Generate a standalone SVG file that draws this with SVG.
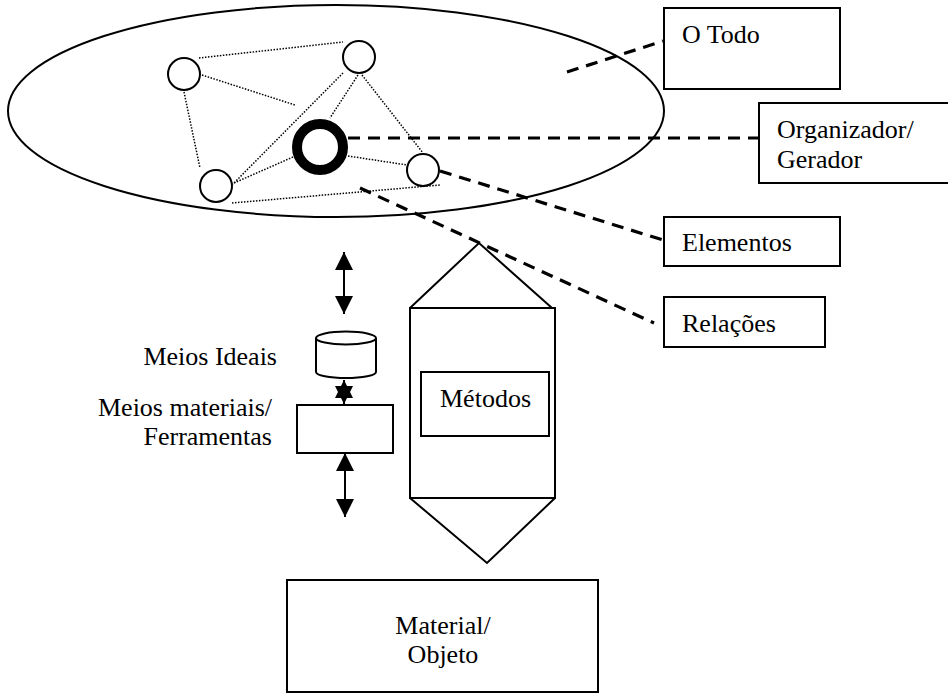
<svg xmlns="http://www.w3.org/2000/svg" width="948" height="693" viewBox="0 0 948 693" font-family="'Liberation Serif', 'DejaVu Serif', serif">
  <style>
    .box { fill: #fff; stroke: #000; stroke-width: 2; }
    .shape { fill: none; stroke: #000; stroke-width: 2; }
    .elem { fill: #fff; stroke: #000; stroke-width: 2; }
    .dot { fill: none; stroke: #000; stroke-width: 1.5; stroke-dasharray: 1.5 1.5; }
    .dash { fill: none; stroke: #000; stroke-width: 3.2; stroke-dasharray: 12 8; }
    .arrow { fill: none; stroke: #000; stroke-width: 2; marker-start: url(#head); marker-end: url(#head); }
    .lbl { font-family: 'Liberation Serif', 'DejaVu Serif', serif; font-size: 26px; fill: #000; }
  </style>
  <defs>
    <marker id="head" viewBox="0 0 10 10" refX="10" refY="5" markerUnits="userSpaceOnUse" markerWidth="18" markerHeight="18" orient="auto-start-reverse">
      <path d="M0,0 L10,5 L0,10 z" fill="#000"/>
    </marker>
  </defs>
  <rect width="948" height="693" fill="#fff"/>

  <!-- the whole -->
  <g id="todo-ellipse">
    <ellipse class="shape" cx="336" cy="111" rx="328" ry="106"/>
  </g>

  <!-- relations between the elements (dotted) -->
  <g id="relations">
    <line class="dot" x1="199" y1="58" x2="343" y2="42"/>
    <line class="dot" x1="202" y1="75" x2="295" y2="105"/>
    <line class="dot" x1="184" y1="92" x2="200" y2="168"/>
    <line class="dot" x1="343" y1="73" x2="233" y2="184"/>
    <line class="dot" x1="358" y1="75" x2="330" y2="118"/>
    <line class="dot" x1="362" y1="75" x2="423" y2="153"/>
    <line class="dot" x1="293" y1="157" x2="234" y2="183"/>
    <line class="dot" x1="348" y1="156" x2="440" y2="170"/>
    <line class="dot" x1="232" y1="203" x2="440" y2="185"/>
  </g>

  <!-- elements -->
  <g id="element-1"><circle class="elem" cx="184" cy="74" r="16"/></g>
  <g id="element-2"><circle class="elem" cx="359" cy="57" r="16"/></g>
  <g id="element-3"><circle class="elem" cx="216" cy="186" r="16"/></g>
  <g id="element-4"><circle class="elem" cx="423" cy="170" r="16"/></g>
  <g id="organizer"><circle cx="320" cy="147" r="23" fill="#fff" stroke="#000" stroke-width="10"/></g>

  <!-- label boxes -->
  <g id="o-todo">
    <rect class="box" x="664" y="8" width="176" height="81"/>
    <text class="lbl" x="682" y="43">O Todo</text>
  </g>
  <g id="organizador">
    <rect class="box" x="759" y="103" width="200" height="80"/>
    <text class="lbl" x="777" y="138">Organizador/</text>
    <text class="lbl" x="777" y="168">Gerador</text>
  </g>
  <g id="elementos">
    <rect class="box" x="664" y="217" width="176" height="49"/>
    <text class="lbl" x="682" y="251">Elementos</text>
  </g>
  <g id="relacoes">
    <rect class="box" x="664" y="297" width="161" height="50"/>
    <text class="lbl" x="682" y="332">Relações</text>
  </g>

  <!-- methods -->
  <g id="metodos">
    <path class="shape" d="M410,308 L479,243 L552,308"/>
    <rect class="shape" x="410" y="308" width="145" height="190"/>
    <path class="shape" d="M410,498 L487,563 L555,498"/>
    <rect class="box" x="421" y="372" width="128" height="64"/>
    <text class="lbl" x="440" y="407">Métodos</text>
  </g>

  <!-- ideal means -->
  <g id="meios-ideais">
    <path class="box" d="M316,338 L316,372 A30,6 0 0 0 376,372 L376,338"/>
    <ellipse class="box" cx="346" cy="338" rx="30" ry="6.5"/>
    <text class="lbl" x="277" y="365" text-anchor="end">Meios Ideais</text>
  </g>

  <!-- material means / tools -->
  <g id="meios-materiais">
    <rect class="box" x="297" y="405" width="96" height="48"/>
    <text class="lbl" x="272" y="416" text-anchor="end">Meios materiais/</text>
    <text class="lbl" x="272" y="445" text-anchor="end">Ferramentas</text>
  </g>

  <!-- material / object -->
  <g id="material">
    <rect class="box" x="287" y="580" width="311" height="112"/>
    <text class="lbl" x="443" y="634" text-anchor="middle">Material/</text>
    <text class="lbl" x="443" y="663" text-anchor="middle">Objeto</text>
  </g>

  <!-- connectors -->
  <g id="connectors">
    <line class="dash" x1="567" y1="72" x2="663" y2="41"/>
    <line class="dash" x1="348" y1="138" x2="759" y2="138"/>
    <line class="dash" x1="440" y1="171" x2="663" y2="240"/>
    <line class="dash" x1="360" y1="188" x2="654" y2="323"/>
    <line class="arrow" x1="344" y1="252" x2="344" y2="314"/>
    <line class="arrow" x1="344" y1="380" x2="344" y2="404"/>
    <line class="arrow" x1="345" y1="453" x2="345" y2="517"/>
  </g>
</svg>
